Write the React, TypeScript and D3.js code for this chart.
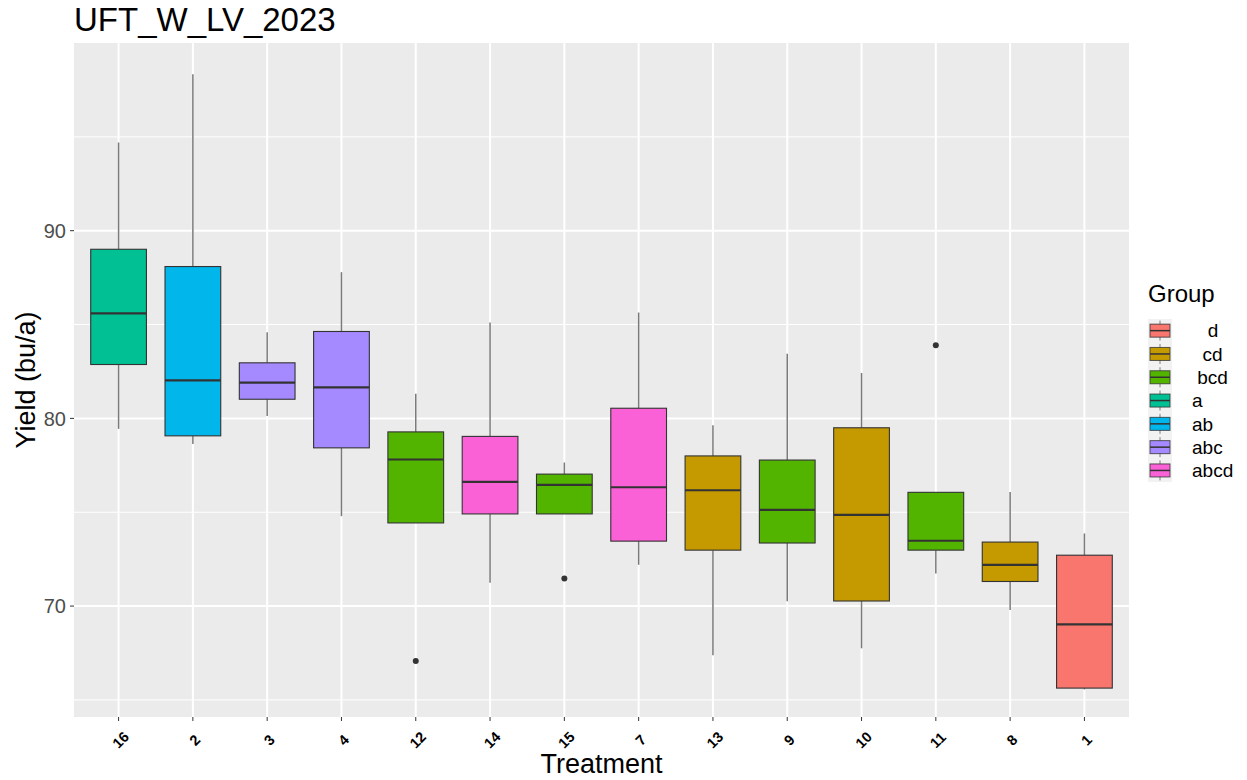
import * as d3 from "d3";

const treatments = ["16", "2", "3", "4", "12", "14", "15", "7", "13", "9", "10", "11", "8", "1"];
const groups = ["a", "ab", "abc", "abc", "bcd", "abcd", "bcd", "abcd", "cd", "bcd", "cd", "bcd", "cd", "d"];

const whiskerHigh = [94.7, 98.34, 84.59, 87.79, 81.31, 85.11, 77.65, 85.64, 79.64, 83.45, 82.42, 76.06, 76.08, 73.87];
const q3 = [89.01, 88.09, 82.96, 84.63, 79.28, 79.04, 77.03, 80.54, 78.0, 77.78, 79.5, 76.06, 73.41, 72.71];
const medians = [85.59, 82.02, 81.91, 81.65, 77.81, 76.62, 76.46, 76.33, 76.17, 75.13, 74.86, 73.48, 72.19, 69.03];
const q1 = [82.87, 79.07, 81.02, 78.43, 74.43, 74.91, 74.91, 73.46, 72.98, 73.36, 70.27, 72.98, 71.31, 65.63];
const whiskerLow = [79.44, 78.63, 80.13, 74.79, 74.43, 71.24, 74.91, 72.2, 67.38, 70.26, 67.75, 71.73, 69.79, 65.56];
const outliers: [string, number][] = [["12", 67.08], ["15", 71.47], ["11", 83.89]];

const legendLevels = ["d", "cd", "bcd", "a", "ab", "abc", "abcd"];
const legendLabels = ["   d", "  cd", " bcd", "a", "ab", "abc", "abcd"];
const groupColors = ["#F8766D", "#C49A00", "#53B400", "#00C094", "#00B6EB", "#A58AFF", "#FB61D7"];

const majorTicks = [70, 80, 90];
const minorTicks = [65, 75, 85, 95];

const W = 1247;
const H = 780;
const panel = { left: 74, right: 1129, top: 43, bottom: 717 };
const font = "'Liberation Sans', Arial, sans-serif";

export default function App() {
  const x = d3
    .scalePoint<string>()
    .domain(treatments)
    .range([panel.left, panel.right])
    .padding(0.6);
  const step = x.step();
  const boxW = step * 0.75;

  const y = d3.scaleLinear().domain([64.09, 100.0]).range([panel.bottom, panel.top]);
  const color = d3.scaleOrdinal<string, string>().domain(legendLevels).range(groupColors);

  const legendX = 1148;
  const legendTop = 319;
  const keyH = 23.3;

  return (
    <div style={{ position: "absolute", left: 0, top: 0 }}>
      <svg width={W} height={H} style={{ fontFamily: font, display: "block" }}>
        <rect width={W} height={H} fill="#fff" />
        <text x={panel.left} y={31} fontSize={33} fill="#000">
          UFT_W_LV_2023
        </text>

        {/* panel */}
        <rect
          x={panel.left}
          y={panel.top}
          width={panel.right - panel.left}
          height={panel.bottom - panel.top}
          fill="#EBEBEB"
        />
        {minorTicks.map((t) => (
          <line key={"mi" + t} x1={panel.left} x2={panel.right} y1={y(t)} y2={y(t)} stroke="#fff" strokeWidth={1} />
        ))}
        {majorTicks.map((t) => (
          <line key={"ma" + t} x1={panel.left} x2={panel.right} y1={y(t)} y2={y(t)} stroke="#fff" strokeWidth={2} />
        ))}
        {treatments.map((t) => (
          <line key={"vx" + t} x1={x(t)} x2={x(t)} y1={panel.top} y2={panel.bottom} stroke="#fff" strokeWidth={2} />
        ))}

        {/* boxes */}
        {treatments.map((t, i) => {
          const cx = x(t) ?? 0;
          return (
            <g key={"b" + t}>
              <line x1={cx} x2={cx} y1={y(whiskerHigh[i])} y2={y(q3[i])} stroke="#333" strokeOpacity={0.65} strokeWidth={1.5} />
              <line x1={cx} x2={cx} y1={y(q1[i])} y2={y(whiskerLow[i])} stroke="#333" strokeOpacity={0.65} strokeWidth={1.5} />
              <rect
                x={cx - boxW / 2}
                y={y(q3[i])}
                width={boxW}
                height={y(q1[i]) - y(q3[i])}
                fill={color(groups[i])}
                stroke="#333"
                strokeWidth={1.1}
              />
              <line x1={cx - boxW / 2} x2={cx + boxW / 2} y1={y(medians[i])} y2={y(medians[i])} stroke="#333" strokeWidth={2.2} />
            </g>
          );
        })}
        {outliers.map(([t, v]) => (
          <circle key={"o" + t} cx={x(t)} cy={y(v)} r={3} fill="#333" />
        ))}

        {/* y axis */}
        {majorTicks.map((t) => (
          <g key={"yt" + t}>
            <line x1={panel.left - 4} x2={panel.left} y1={y(t)} y2={y(t)} stroke="#333" strokeWidth={1} />
            <text x={panel.left - 8} y={y(t)} dy="0.36em" textAnchor="end" fontSize={20} fill="#4D4D4D">
              {t}
            </text>
          </g>
        ))}
        <text
          transform={`translate(${35},${(panel.top + panel.bottom) / 2}) rotate(-90)`}
          textAnchor="middle"
          fontSize={27}
          fill="#000"
        >
          Yield (bu/a)
        </text>

        {/* x axis */}
        {treatments.map((t) => (
          <g key={"xt" + t}>
            <line x1={x(t)} x2={x(t)} y1={panel.bottom} y2={panel.bottom + 4} stroke="#333" strokeWidth={1} />
            <text
              transform={`translate(${(x(t) ?? 0) + 2},${panel.bottom + 23}) rotate(-45)`}
              textAnchor="middle"
              dy="0.35em"
              fontSize={14.5}
              fontWeight="bold"
              fill="#000"
            >
              {t}
            </text>
          </g>
        ))}
        <text x={(panel.left + panel.right) / 2} y={773} textAnchor="middle" fontSize={27} fill="#000">
          Treatment
        </text>

        {/* legend */}
        <text x={legendX} y={302} fontSize={24} fill="#000">
          Group
        </text>
        <rect x={legendX} y={legendTop} width={24} height={keyH * legendLevels.length} fill="#F2F2F2" />
        {legendLevels.map((g, i) => {
          const cy = legendTop + keyH * (i + 0.5);
          const kx = legendX + 12;
          return (
            <g key={"lg" + g}>
              <line x1={kx} x2={kx} y1={cy - 10} y2={cy + 10} stroke="#333" strokeOpacity={0.6} strokeWidth={1} />
              <rect x={kx - 10} y={cy - 6.5} width={20} height={13} fill={color(g)} stroke="#333" strokeOpacity={0.8} strokeWidth={1} />
              <line x1={kx - 10} x2={kx + 10} y1={cy} y2={cy} stroke="#333" strokeWidth={1.5} />
              <text x={1192} y={cy} dy="0.36em" fontSize={19} fill="#000" style={{ whiteSpace: "pre" }}>
                {legendLabels[i]}
              </text>
            </g>
          );
        })}
      </svg>
    </div>
  );
}
